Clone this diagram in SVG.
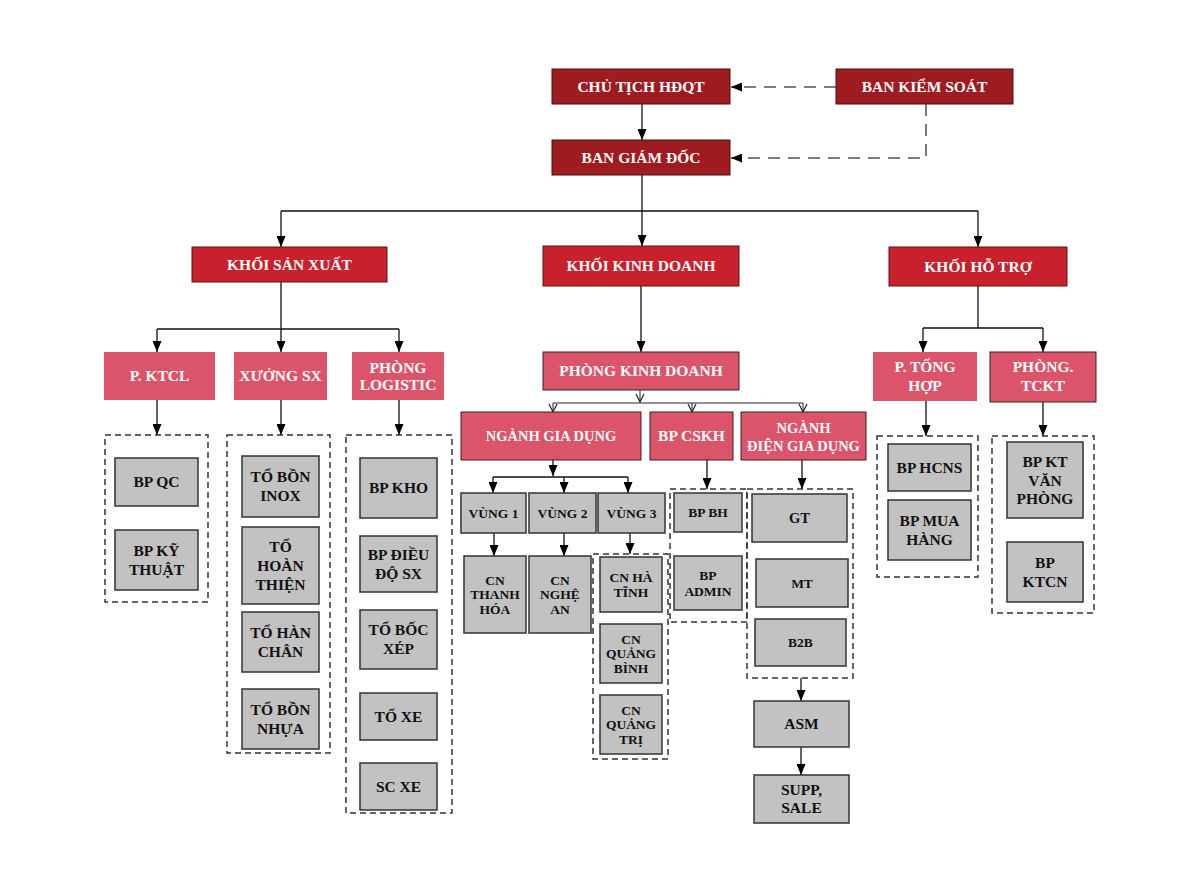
<svg xmlns="http://www.w3.org/2000/svg" width="1200" height="895" viewBox="0 0 1200 895">
<defs>
<style>
.top{fill:#9E1B20;stroke:#4a1012;stroke-width:1}
.blk{fill:#C8202C;stroke:#5a1416;stroke-width:1}
.pk{fill:#DC5469}
.pkb{fill:#DC5469;stroke:#3a2225;stroke-width:1}
.gr{fill:#C3C2C3;stroke:#333;stroke-width:1.5}
.dbox{fill:none;stroke:#333;stroke-width:1.5;stroke-dasharray:6,4}
.w{fill:#fff;font-family:"Liberation Serif","Times New Roman",serif;font-weight:bold;text-anchor:middle;font-size:15.5px}
.k{fill:#111;font-family:"Liberation Serif","Times New Roman",serif;font-weight:bold;text-anchor:middle;font-size:15.5px}
.s13{font-size:13.5px}
.ln{fill:none;stroke:#111;stroke-width:1.3}
.thin{fill:none;stroke:#222;stroke-width:1}
.dash{fill:none;stroke:#555;stroke-width:1.6;stroke-dasharray:12,8}
</style>
<marker id="ar" viewBox="0 0 11 9" refX="11" refY="4.5" markerWidth="11" markerHeight="9" markerUnits="userSpaceOnUse" orient="auto"><path d="M0,0 L11,4.5 L0,9z" fill="#000"/></marker>
<marker id="ch" viewBox="0 0 8 8" refX="8" refY="4" markerWidth="8" markerHeight="8" markerUnits="userSpaceOnUse" orient="auto" overflow="visible"><path d="M0,0 L8,4 L0,8" fill="none" stroke="#222" stroke-width="1.2"/></marker>
</defs>
<rect width="1200" height="895" fill="#fff"/>

<g id="connectors">
<path class="dash" d="M836,87 H731" marker-end="url(#ar)"/>
<path class="dash" d="M926,104 V158 H731" marker-end="url(#ar)"/>
<path class="ln" d="M642,104 V140" marker-end="url(#ar)"/>
<path class="ln" d="M642,175 V211 M281,211 H978"/>
<path class="ln" d="M281,211 V247" marker-end="url(#ar)"/>
<path class="ln" d="M642,211 V246" marker-end="url(#ar)"/>
<path class="ln" d="M978,211 V247" marker-end="url(#ar)"/>
<path class="ln" d="M281,282 V329 M157,329 H399"/>
<path class="ln" d="M157,329 V352" marker-end="url(#ar)"/>
<path class="ln" d="M281,329 V352" marker-end="url(#ar)"/>
<path class="ln" d="M399,329 V352" marker-end="url(#ar)"/>
<path class="ln" d="M157,400 V435" marker-end="url(#ar)"/>
<path class="ln" d="M281,400 V435" marker-end="url(#ar)"/>
<path class="ln" d="M399,400 V435" marker-end="url(#ar)"/>
<path class="ln" d="M641,286 V352" marker-end="url(#ar)"/>
<path class="thin" d="M640,390 V402" marker-end="url(#ch)"/>
<path class="thin" d="M553,403 H803"/>
<path class="thin" d="M553,403 V412" marker-end="url(#ch)"/>
<path class="thin" d="M692,403 V412" marker-end="url(#ch)"/>
<path class="thin" d="M803,403 V412" marker-end="url(#ch)"/>
<path class="ln" d="M553,460 V476" marker-end="url(#ar)"/>
<path class="ln" d="M493,477 H628"/>
<path class="ln" d="M493,477 V493" marker-end="url(#ar)"/>
<path class="ln" d="M564,477 V493" marker-end="url(#ar)"/>
<path class="ln" d="M628,477 V493" marker-end="url(#ar)"/>
<path class="ln" d="M494,533 V556" marker-end="url(#ar)"/>
<path class="ln" d="M564,533 V556" marker-end="url(#ar)"/>
<path class="ln" d="M630,533 V554" marker-end="url(#ar)"/>
<path class="ln" d="M707,460 V489" marker-end="url(#ar)"/>
<path class="ln" d="M802,460 V489" marker-end="url(#ar)"/>
<path class="ln" d="M801,678 V701" marker-end="url(#ar)"/>
<path class="ln" d="M801,747 V775" marker-end="url(#ar)"/>
<path class="ln" d="M978,286 V328 M923,328 H1043"/>
<path class="ln" d="M923,328 V352" marker-end="url(#ar)"/>
<path class="ln" d="M1043,328 V352" marker-end="url(#ar)"/>
<path class="ln" d="M926,401 V436" marker-end="url(#ar)"/>
<path class="ln" d="M1043,402 V436" marker-end="url(#ar)"/>
</g>

<g id="chu-tich"><rect class="top" x="552" y="69" width="178" height="35"/><text class="w" x="641" y="92">CHỦ TỊCH HĐQT</text></g>
<g id="ban-kiem-soat"><rect class="top" x="836" y="69" width="177" height="35"/><text class="w" x="924.5" y="92">BAN KIỂM SOÁT</text></g>
<g id="ban-giam-doc"><rect class="top" x="552" y="140" width="178" height="35"/><text class="w" x="641" y="163">BAN GIÁM ĐỐC</text></g>

<g id="khoi-san-xuat"><rect class="blk" x="192" y="247" width="195" height="35"/><text class="w" x="289.5" y="270">KHỐI SẢN XUẤT</text></g>
<g id="khoi-kinh-doanh"><rect class="blk" x="543" y="246" width="196" height="40"/><text class="w" x="641" y="271">KHỐI KINH DOANH</text></g>
<g id="khoi-ho-tro"><rect class="blk" x="889" y="247" width="178" height="39"/><text class="w" x="978" y="272">KHỐI HỖ TRỢ</text></g>

<g id="p-ktcl"><rect class="pk" x="104" y="352" width="111" height="48"/><text class="w" x="159.5" y="381">P. KTCL</text></g>
<g id="xuong-sx"><rect class="pk" x="234" y="352" width="93" height="48"/><text class="w" x="280.5" y="381">XƯỞNG SX</text></g>
<g id="phong-logistic"><rect class="pk" x="352" y="352" width="92" height="48"/><text class="w" x="398" y="372.5">PHÒNG</text><text class="w" x="398" y="389.5">LOGISTIC</text></g>
<g id="phong-kinh-doanh"><rect class="pkb" x="543" y="352" width="196" height="38"/><text class="w" x="641" y="376">PHÒNG KINH DOANH</text></g>
<g id="nganh-gia-dung"><rect class="pkb" x="461" y="412" width="180" height="48"/><text class="w" x="551" y="441" style="font-size:14.5px">NGÀNH GIA DỤNG</text></g>
<g id="bp-cskh"><rect class="pkb" x="650" y="412" width="83" height="48"/><text class="w" x="691.5" y="441">BP CSKH</text></g>
<g id="nganh-dien-gia-dung"><rect class="pkb" x="741" y="412" width="125" height="48"/><text class="w" x="803.5" y="432.5" style="font-size:14.5px">NGÀNH</text><text class="w" x="803.5" y="450.5" style="font-size:14.5px">ĐIỆN GIA DỤNG</text></g>
<g id="p-tong-hop"><rect class="pk" x="873" y="352" width="104" height="49"/><text class="w" x="925" y="372">P. TỔNG</text><text class="w" x="925" y="391">HỢP</text></g>
<g id="phong-tckt"><rect class="pkb" x="990" y="352" width="106" height="50"/><text class="w" x="1043" y="372">PHÒNG.</text><text class="w" x="1043" y="391">TCKT</text></g>

<g id="grp-ktcl">
<rect class="dbox" x="105" y="435" width="103" height="167"/>
<rect class="gr" x="115" y="458" width="83" height="48"/><text class="k" x="156.5" y="487">BP QC</text>
<rect class="gr" x="115" y="530" width="83" height="60"/><text class="k" x="156.5" y="555.5">BP KỸ</text><text class="k" x="156.5" y="574.5">THUẬT</text>
</g>
<g id="grp-xuong">
<rect class="dbox" x="227" y="435" width="103" height="318"/>
<rect class="gr" x="242" y="456" width="77" height="61"/><text class="k" x="280.5" y="482">TỔ BỒN</text><text class="k" x="280.5" y="501">INOX</text>
<rect class="gr" x="242" y="527" width="77" height="77"/><text class="k" x="280.5" y="551.5">TỔ</text><text class="k" x="280.5" y="570.5">HOÀN</text><text class="k" x="280.5" y="589.5">THIỆN</text>
<rect class="gr" x="242" y="612" width="77" height="60"/><text class="k" x="280.5" y="637.5">TỔ HÀN</text><text class="k" x="280.5" y="656.5">CHÂN</text>
<rect class="gr" x="242" y="689" width="77" height="60"/><text class="k" x="280.5" y="714.5">TỔ BỒN</text><text class="k" x="280.5" y="733.5">NHỰA</text>
</g>
<g id="grp-logistic">
<rect class="dbox" x="346" y="435" width="106" height="378"/>
<rect class="gr" x="360" y="458" width="77" height="60"/><text class="k" x="398.5" y="493">BP KHO</text>
<rect class="gr" x="360" y="536" width="77" height="56"/><text class="k" x="398.5" y="559.5">BP ĐIỀU</text><text class="k" x="398.5" y="578.5">ĐỘ SX</text>
<rect class="gr" x="360" y="610" width="77" height="59"/><text class="k" x="398.5" y="635">TỔ BỐC</text><text class="k" x="398.5" y="654">XÉP</text>
<rect class="gr" x="360" y="693" width="77" height="47"/><text class="k" x="398.5" y="721.5">TỔ XE</text>
<rect class="gr" x="360" y="763" width="77" height="47"/><text class="k" x="398.5" y="791.5">SC XE</text>
</g>

<g id="vung-1"><rect class="gr" x="461" y="493" width="65" height="40"/><text class="k s13" x="493.5" y="517.5">VÙNG 1</text></g>
<g id="vung-2"><rect class="gr" x="529" y="493" width="67" height="40"/><text class="k s13" x="562.5" y="517.5">VÙNG 2</text></g>
<g id="vung-3"><rect class="gr" x="598" y="493" width="67" height="40"/><text class="k s13" x="631.5" y="517.5">VÙNG 3</text></g>
<g id="cn-thanh-hoa"><rect class="gr" x="464" y="556" width="62" height="77"/><text class="k s13" x="495" y="584.5">CN</text><text class="k s13" x="495" y="599">THANH</text><text class="k s13" x="495" y="613.5">HÓA</text></g>
<g id="cn-nghe-an"><rect class="gr" x="529" y="556" width="62" height="77"/><text class="k s13" x="560" y="584.5">CN</text><text class="k s13" x="560" y="599">NGHỆ</text><text class="k s13" x="560" y="613.5">AN</text></g>
<g id="grp-vung3">
<rect class="dbox" x="593" y="554" width="75" height="205"/>
<rect class="gr" x="600" y="557" width="62" height="55"/><text class="k s13" x="631" y="582">CN HÀ</text><text class="k s13" x="631" y="596.5">TĨNH</text>
<rect class="gr" x="600" y="624" width="62" height="59"/><text class="k s13" x="631" y="643.5">CN</text><text class="k s13" x="631" y="658">QUẢNG</text><text class="k s13" x="631" y="672.5">BÌNH</text>
<rect class="gr" x="600" y="695" width="62" height="59"/><text class="k s13" x="631" y="714.5">CN</text><text class="k s13" x="631" y="729">QUẢNG</text><text class="k s13" x="631" y="743.5">TRỊ</text>
</g>
<g id="grp-cskh">
<rect class="dbox" x="670" y="489" width="77" height="133"/>
<rect class="gr" x="674" y="493" width="68" height="39"/><text class="k s13" x="708" y="517">BP BH</text>
<rect class="gr" x="674" y="556" width="68" height="54"/><text class="k s13" x="708" y="579.5">BP</text><text class="k s13" x="708" y="595.5">ADMIN</text>
</g>
<g id="grp-dien-gia-dung">
<rect class="dbox" x="747" y="489" width="106" height="189"/>
<rect class="gr" x="752" y="494" width="95" height="48"/><text class="k" x="799.5" y="523" style="font-size:14.5px">GT</text>
<rect class="gr" x="756" y="559" width="92" height="48"/><text class="k s13" x="802" y="587.5">MT</text>
<rect class="gr" x="755" y="619" width="91" height="47"/><text class="k s13" x="800.5" y="647">B2B</text>
</g>
<g id="asm"><rect class="gr" x="754" y="701" width="95" height="46"/><text class="k" x="801.5" y="729">ASM</text></g>
<g id="supp-sale"><rect class="gr" x="754" y="775" width="95" height="48"/><text class="k" x="801.5" y="795">SUPP,</text><text class="k" x="801.5" y="813">SALE</text></g>

<g id="grp-tong-hop">
<rect class="dbox" x="877" y="436" width="101" height="141"/>
<rect class="gr" x="888" y="444" width="83" height="47"/><text class="k" x="929.5" y="473">BP HCNS</text>
<rect class="gr" x="888" y="500" width="83" height="60"/><text class="k" x="929.5" y="526">BP MUA</text><text class="k" x="929.5" y="545">HÀNG</text>
</g>
<g id="grp-tckt">
<rect class="dbox" x="992" y="436" width="102" height="177"/>
<rect class="gr" x="1007" y="442" width="76" height="76"/><text class="k" x="1045" y="467">BP KT</text><text class="k" x="1045" y="485.5">VĂN</text><text class="k" x="1045" y="504">PHÒNG</text>
<rect class="gr" x="1007" y="542" width="76" height="60"/><text class="k" x="1045" y="567.5">BP</text><text class="k" x="1045" y="586.5">KTCN</text>
</g>
</svg>
